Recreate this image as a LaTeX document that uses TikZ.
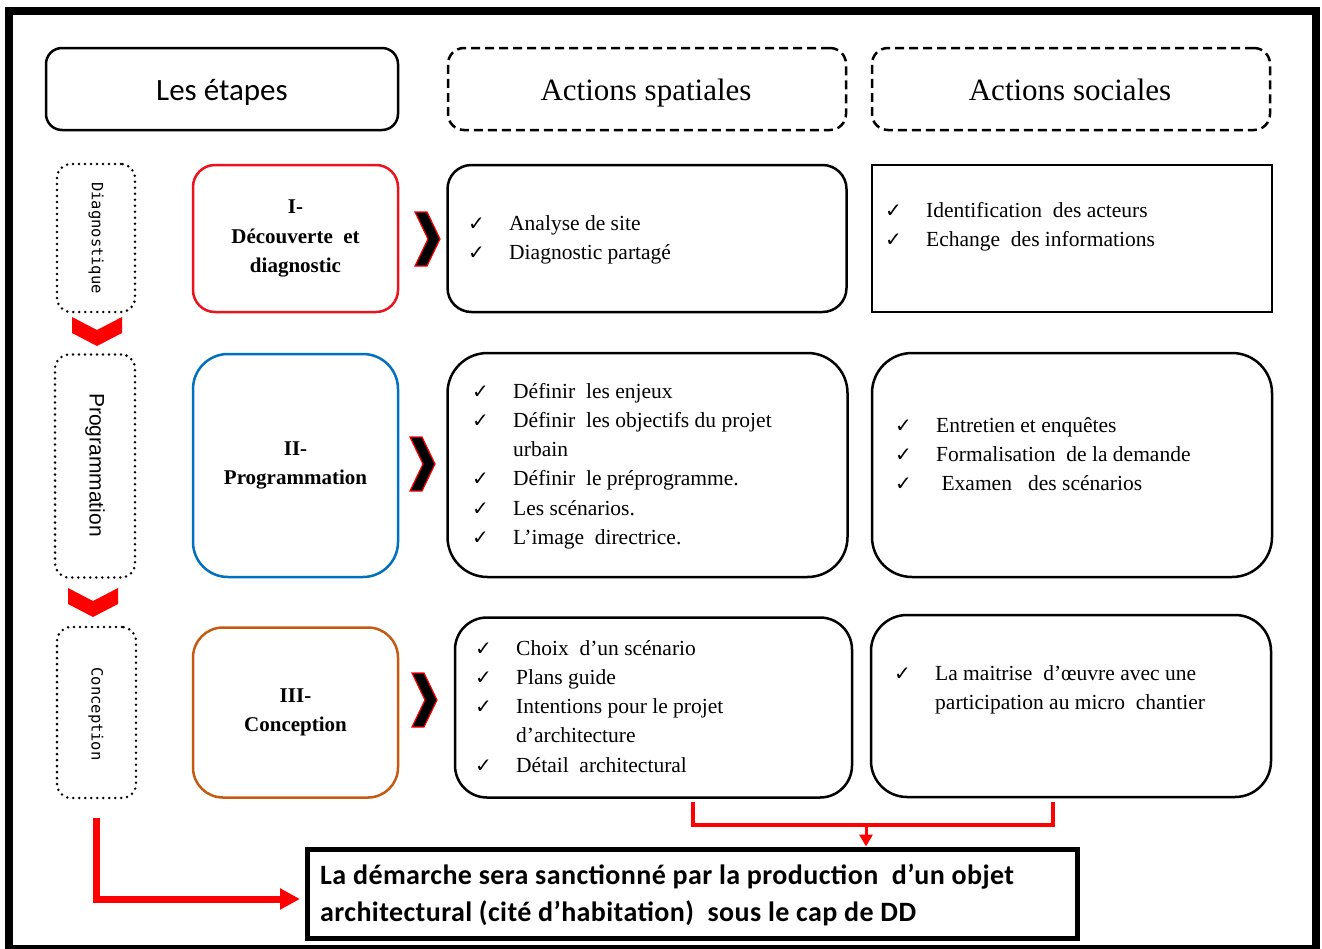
\documentclass[tikz,border=0pt]{standalone}
\usepackage{fontspec}
\setmainfont{Liberation Serif}
\newfontfamily\calibri{Carlito}
\newfontfamily\monosans{DejaVu Sans Mono}
\newfontfamily\arialsans{Liberation Sans}
\newfontfamily\symbolfont{DejaVu Sans}
\usetikzlibrary{arrows.meta}

\definecolor{stagered}{RGB}{235,20,30}
\definecolor{stageblue}{RGB}{0,112,192}
\definecolor{stageorange}{RGB}{197,90,17}

\newcommand\ck{{\symbolfont\fontsize{20}{20}\selectfont ✓}}
\newcommand\itemsfont{\fontsize{21.5}{29.3}\selectfont}
\newcommand\cklist[1]{\begin{tabular}[t]{@{}p{41pt}@{}l@{}}#1\end{tabular}}

\tikzset{
  headbox/.style={draw, line width=2.5pt, rounded corners=16pt, minimum width=352pt, minimum height=82pt, inner sep=0},
  headdash/.style={headbox, minimum width=398pt, dash pattern=on 9pt off 5pt},
  phasebox/.style={draw, line width=2.8pt, dash pattern=on 0pt off 6pt, line cap=round, rounded corners=14pt, inner sep=0},
  stagebox/.style={draw, line width=2.5pt, minimum width=205pt, inner sep=0, align=center, font=\bfseries\fontsize{21}{29.5}\selectfont},
  actbox/.style={draw, line width=2.5pt, inner sep=0},
  list/.style={anchor=base west, inner sep=0, font=\itemsfont},
  redline/.style={draw=red, line width=4.5pt},
  chevR/.pic={\path[fill=black, draw=red, line width=1.2pt] (0,0) -- (12,0) -- (25,27) -- (12,54) -- (0,54) -- (13,27) -- cycle;},
  chevD/.pic={\path[fill=red] (0,0) -- (25,13) -- (50,0) -- (50,16) -- (25,29) -- (0,16) -- cycle;}
}

\begin{document}
\begin{tikzpicture}[x=1pt, y=-1pt]
\useasboundingbox (0,0) rectangle (1322,948);
\fill[white] (0,0) rectangle (1322,948);

% outer frame
\draw[line width=8pt] (9,11) rectangle (1316,949);

% column headings
\node[headbox] (hEt) at (222,89) {};
\node[anchor=base, inner sep=0] (tEt) at (222,100) {\calibri\fontsize{31}{36}\selectfont Les étapes};
\node[headdash] (hSp) at (647,89) {};
\node[anchor=base, inner sep=0] (tSp) at (646,100) {\fontsize{31}{36}\selectfont Actions spatiales};
\node[headdash] (hSo) at (1071,89) {};
\node[anchor=base, inner sep=0] (tSo) at (1070,100) {\fontsize{31}{36}\selectfont Actions sociales};

% phase labels on the left
\node[phasebox, minimum width=78pt, minimum height=148pt] (d1) at (96,238) {};
\node[rotate=-90, inner sep=0] (t1) at (96,238) {\monosans\fontsize{15.5}{18}\selectfont Diagnostique};
\node[phasebox, minimum width=80pt, minimum height=223pt] (d2) at (95,466) {};
\node[rotate=-90, inner sep=0] (t2) at (95,465) {\arialsans\fontsize{21}{24}\selectfont Programmation};
\node[phasebox, minimum width=79pt, minimum height=171pt] (d3) at (96.5,712.5) {};
\node[rotate=-90, inner sep=0] (t3) at (96,714) {\monosans\fontsize{15.5}{18}\selectfont Conception};

\pic at (72,317) {chevD};
\pic at (68,588) {chevD};

% stages
\node[stagebox, draw=stagered, minimum height=147pt, rounded corners=22pt] (s1) at (295.5,238.5) {I-\\Découverte~~et\\diagnostic};
\node[stagebox, draw=stageblue, minimum height=223pt, rounded corners=35pt] (s2) at (295.5,465.5) {II-\\Programmation};
\node[stagebox, draw=stageorange, minimum height=170pt, rounded corners=30pt] (s3) at (295.5,712.5) {III-\\Conception};

\pic at (415,212) {chevR};
\pic at (410,437) {chevR};
\pic at (412,673) {chevR};

% spatial actions
\node[actbox, minimum width=399pt, minimum height=147pt, rounded corners=24pt] (a1) at (647,238.5) {};
\node[actbox, minimum width=400pt, minimum height=224pt, rounded corners=40pt] (a2) at (647.5,465) {};
\node[actbox, minimum width=397pt, minimum height=180pt, rounded corners=32pt] (a3) at (653.5,707.5) {};

\node[list] (l1) at (468,230) {\cklist{\ck & Analyse de site\\ \ck & Diagnostic partagé}};
\node[list] (l2) at (472,398) {\cklist{\ck & Définir~ les enjeux\\ \ck & Définir~ les objectifs du projet\\ & urbain\\ \ck & Définir~ le préprogramme.\\ \ck & Les scénarios.\\ \ck & L’image~ directrice.}};
\node[list] (l3) at (475,655) {\cklist{\ck & Choix~ d’un scénario\\ \ck & Plans guide\\ \ck & Intentions pour le projet\\ & d’architecture\\ \ck & Détail~ architectural}};

% social actions
\node[actbox, minimum width=400pt, minimum height=147pt] (b1) at (1072,238.5) {};
\node[actbox, minimum width=400pt, minimum height=224pt, rounded corners=40pt] (b2) at (1072,465) {};
\node[actbox, minimum width=400pt, minimum height=182pt, rounded corners=36pt] (b3) at (1071,706) {};

\node[list] (m1) at (885,217) {\cklist{\ck & Identification~ des acteurs\\ \ck & Echange~ des informations}};
\node[list] (m2) at (895,432) {\cklist{\ck & Entretien et enquêtes\\ \ck & Formalisation~ de la demande\\ \ck & \ Examen~~ des scénarios}};
\node[list] (m3) at (894,680) {\cklist{\ck & La maitrise~ d’œuvre avec une\\ & participation au micro~ chantier}};

% conclusion
\node[draw, line width=5pt, minimum width=770pt, minimum height=89pt, inner sep=0] (fin) at (692,893.5) {};
\node[anchor=base west, inner sep=0] (fintext) at (320,884) {\calibri\bfseries\fontsize{28}{37}\selectfont\addfontfeatures{LetterSpace=1.5}\begin{tabular}[t]{@{}l@{}}La démarche sera sanctionné par la production~ d’un objet\\ architectural (cité d’habitation)~ sous le cap de DD\end{tabular}};

% joining connectors
\coordinate (bl) at (693,802);
\coordinate (br) at (1053,802);
\coordinate (bm) at (866,825);
\draw[redline, line join=miter] (bl) -- (693,825) -- (1053,825) -- (br);
\draw[draw=red, line width=3pt, -{Triangle[length=12pt,width=13pt]}] (bm) -- (bm |- fin.north);

\coordinate (lstart) at (96,818);
\coordinate (lend) at (300,899);
\draw[draw=red, line width=7pt, -{Triangle[length=20pt,width=20pt]}] (lstart) |- (lend);
\end{tikzpicture}
\end{document}
